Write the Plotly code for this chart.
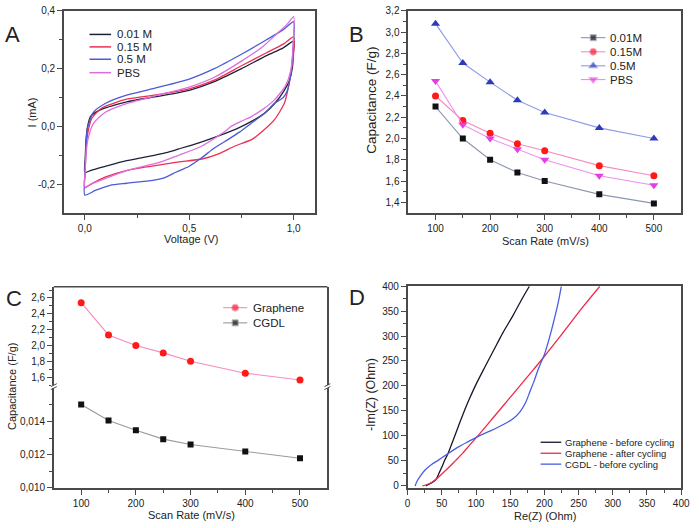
import plotly.graph_objects as go

W, H = 700, 528
FONT = "Liberation Sans, Arial, sans-serif"
LC = "#4a4a4a"


def fx(p):
    return p / W


def fy(p):
    return 1 - p / H


# ---------------- DATA ----------------
# Panel A : cyclic voltammograms (Voltage V, Current mA); forward branch then reverse branch
cv_labels = ["0.01 M", "0.15 M", "0.5 M", "PBS"]
cv_001_x = [0, 0.002, 0.006, 0.012, 0.027, 0.074, 0.2, 0.35, 0.5, 0.62, 0.75, 0.87, 0.95, 1.0,
            0.998, 0.994, 0.98, 0.955, 0.91, 0.86, 0.8, 0.734, 0.65, 0.546, 0.45, 0.389, 0.3, 0.2, 0.1, 0.03, 0.0]
cv_001_y = [-0.16, -0.11, -0.045, -0.005, 0.034, 0.057, 0.085, 0.104, 0.125, 0.155, 0.2, 0.245, 0.272, 0.295,
            0.25, 0.204, 0.16, 0.125, 0.08, 0.045, 0.018, -0.006, -0.03, -0.057, -0.078, -0.091, -0.105, -0.119, -0.138, -0.152, -0.16]
cv_015_x = [0, 0.002, 0.006, 0.015, 0.035, 0.08, 0.2, 0.35, 0.5, 0.62, 0.75, 0.87, 0.95, 1.0,
            0.998, 0.986, 0.97, 0.955, 0.91, 0.86, 0.8, 0.719, 0.64, 0.561, 0.45, 0.39, 0.3, 0.2, 0.1, 0.03, 0.0]
cv_015_y = [-0.213, -0.15, -0.08, -0.02, 0.03, 0.063, 0.094, 0.11, 0.13, 0.16, 0.21, 0.255, 0.285, 0.31,
            0.24, 0.181, 0.12, 0.079, 0.025, -0.011, -0.045, -0.068, -0.095, -0.113, -0.123, -0.13, -0.14, -0.153, -0.175, -0.2, -0.213]
cv_05_x = [0, 0.002, 0.006, 0.012, 0.04, 0.1, 0.2, 0.35, 0.5, 0.62, 0.75, 0.87, 0.95, 1.0,
           0.998, 0.986, 0.97, 0.95, 0.907, 0.86, 0.797, 0.74, 0.687, 0.62, 0.561, 0.5, 0.436, 0.38, 0.326, 0.2, 0.121, 0.05, 0.0]
cv_05_y = [-0.238, -0.15, -0.066, -0.009, 0.048, 0.08, 0.108, 0.135, 0.164, 0.2, 0.25, 0.3, 0.335, 0.363,
           0.28, 0.181, 0.125, 0.1, 0.079, 0.045, 0.011, -0.02, -0.045, -0.075, -0.108, -0.138, -0.159, -0.178, -0.187, -0.197, -0.204, -0.222, -0.238]
cv_pbs_x = [0, 0.002, 0.006, 0.015, 0.042, 0.1, 0.2, 0.35, 0.5, 0.62, 0.75, 0.85, 0.923, 0.97, 1.0,
            0.998, 0.986, 0.96, 0.907, 0.85, 0.797, 0.75, 0.7, 0.672, 0.561, 0.45, 0.357, 0.2, 0.1, 0.03, 0.0]
cv_pbs_y = [-0.21, -0.15, -0.095, -0.045, 0.011, 0.05, 0.079, 0.108, 0.136, 0.17, 0.226, 0.275, 0.323, 0.355, 0.38,
            0.29, 0.193, 0.14, 0.091, 0.058, 0.034, 0.018, 0.0, -0.017, -0.068, -0.1, -0.125, -0.153, -0.18, -0.2, -0.21]

# Panel B : capacitance vs scan rate
scan_rate = [100, 150, 200, 250, 300, 400, 500]
cap_001M = [2.30, 2.00, 1.80, 1.68, 1.60, 1.475, 1.39]
cap_015M = [2.40, 2.17, 2.05, 1.95, 1.885, 1.745, 1.65]
cap_05M = [3.08, 2.71, 2.53, 2.36, 2.245, 2.10, 2.00]
cap_PBS = [2.54, 2.13, 2.00, 1.90, 1.80, 1.65, 1.56]
b_labels = ["0.01M", "0.15M", "0.5M", "PBS"]

# Panel C
cap_graphene = [2.54, 2.133, 2.00, 1.906, 1.80, 1.65, 1.563]
cap_cgdl = [0.01502, 0.01406, 0.01347, 0.01294, 0.01262, 0.01219, 0.01179]
c_labels = ["Graphene", "CGDL"]

# Panel D : Nyquist plots (Re(Z), -Im(Z))
nyq_labels = ["Graphene - before cycling", "Graphene - after cycling", "CGDL - before cycling"]
gr_before_re = [26.5, 32, 37, 42, 46, 50, 54, 59, 66, 74, 83, 91, 100, 113, 126, 139, 152.7, 165, 178]
gr_before_im = [-1, 3, 7, 13, 25, 37, 50, 64, 89, 118, 150, 176, 203, 238, 272, 306, 338, 369, 400]
gr_after_re = [21.6, 26, 32, 37, 42, 50, 60, 70, 80, 90, 101, 125, 150, 175, 201, 225, 256, 281]
gr_after_im = [-1, 1, 4, 8, 13, 23, 36, 50, 64, 80, 97, 136, 177, 218, 261, 303, 358, 400]
cgdl_re = [11, 12, 13.5, 18, 25.5, 35, 45, 59, 75, 90, 101, 120, 140.7, 155, 164.8, 172, 179,
           185, 190, 195, 200, 205, 210, 215, 220, 224.7]
cgdl_im = [-1, 3, 8, 18, 31, 42, 51, 64, 78, 89, 97, 109, 123, 135, 149, 165, 189,
           210, 230, 247, 263, 285, 310, 337, 366, 400]

# Tick labels
a_xt = [0, 0.5, 1.0]; a_xtt = ["0,0", "0,5", "1,0"]
a_yt = [-0.2, 0, 0.2, 0.4]; a_ytt = ["-0,2", "0,0", "0,2", "0,4"]
b_yt = [1.4, 1.6, 1.8, 2.0, 2.2, 2.4, 2.6, 2.8, 3.0, 3.2]
b_ytt = ["1,4", "1,6", "1,8", "2,0", "2,2", "2,4", "2,6", "2,8", "3,0", "3,2"]
sr_t = [100, 200, 300, 400, 500]; sr_tt = ["100", "200", "300", "400", "500"]
c_top_t = [1.6, 1.8, 2.0, 2.2, 2.4, 2.6]; c_top_tt = ["1,6", "1,8", "2,0", "2,2", "2,4", "2,6"]
c_bot_t = [0.010, 0.012, 0.014]; c_bot_tt = ["0,010", "0,012", "0,014"]
d_t = [0, 50, 100, 150, 200, 250, 300, 350, 400]
d_tt = ["0", "50", "100", "150", "200", "250", "300", "350", "400"]

# ---------------- STYLE ----------------
A_COL = ["#1e2238", "#ec2f52", "#4b5bd6", "#dd6ee0"]
B_LINE = ["#8d95b5", "#f48cc0", "#8e9be6", "#f08ef0"]
B_MK = ["#111111", "#ff1a1a", "#2c3cb8", "#e43ee4"]
B_SYM = ["square", "circle", "triangle-up", "triangle-down"]
B_SIZE = [6, 7, 8, 8]
D_COL = ["#17172c", "#f0284a", "#4a5ee0"]

fig = go.Figure()

# Panel A
for xs, ys, lab, col in zip([cv_001_x, cv_015_x, cv_05_x, cv_pbs_x],
                            [cv_001_y, cv_015_y, cv_05_y, cv_pbs_y], cv_labels, A_COL):
    fig.add_trace(go.Scatter(x=xs, y=ys, mode="lines", name=lab, showlegend=False,
                             line=dict(color=col, width=1.3, shape="spline", smoothing=0.6),
                             xaxis="x", yaxis="y"))

# Panel B
for ys, lab, lc, mc, sym, sz in zip([cap_001M, cap_015M, cap_05M, cap_PBS], b_labels,
                                   B_LINE, B_MK, B_SYM, B_SIZE):
    fig.add_trace(go.Scatter(x=scan_rate, y=ys, mode="lines+markers", name=lab, showlegend=False,
                             line=dict(color=lc, width=1.1),
                             marker=dict(color=mc, symbol=sym, size=sz),
                             xaxis="x2", yaxis="y2"))

# Panel C
fig.add_trace(go.Scatter(x=scan_rate, y=cap_graphene, mode="lines+markers", name=c_labels[0],
                         showlegend=False, line=dict(color="#f48cc0", width=1.1),
                         marker=dict(color="#ff1a1a", symbol="circle", size=7),
                         xaxis="x3", yaxis="y4"))
fig.add_trace(go.Scatter(x=scan_rate, y=cap_cgdl, mode="lines+markers", name=c_labels[1],
                         showlegend=False, line=dict(color="#9a9a9a", width=1.1),
                         marker=dict(color="#111111", symbol="square", size=6),
                         xaxis="x3", yaxis="y3"))

# Panel D
for xs, ys, lab, col in zip([gr_before_re, gr_after_re, cgdl_re], [gr_before_im, gr_after_im, cgdl_im],
                            nyq_labels, D_COL):
    fig.add_trace(go.Scatter(x=xs, y=ys, mode="lines", name=lab, showlegend=False,
                             line=dict(color=col, width=1.3, shape="spline", smoothing=0.8),
                             xaxis="x4", yaxis="y5"))


def axis(domain, rng, tv, tt, minor_vals, anchor, mirror=True, showline=True):
    return dict(domain=domain, range=rng, tickmode="array", tickvals=tv, ticktext=tt,
                ticks="outside", ticklen=5, tickwidth=1.2, tickcolor=LC,
                showline=showline, linecolor=LC, linewidth=1.5, mirror=mirror,
                showgrid=False, zeroline=False,
                tickfont=dict(size=10, color="#222", family=FONT),
                minor=dict(tickvals=minor_vals, ticks="outside", ticklen=3, tickwidth=1,
                           tickcolor=LC, showgrid=False),
                anchor=anchor)


sr_minor = [150, 250, 350, 450]
d_minor = [25, 75, 125, 175, 225, 275, 325, 375]
layout = dict(
    width=W, height=H, margin=dict(l=0, r=0, t=0, b=0),
    paper_bgcolor="white", plot_bgcolor="rgba(0,0,0,0)",
    font=dict(family=FONT, color="#222"), showlegend=False,
    xaxis=axis([fx(62), fx(317)], [-0.1, 1.1], a_xt, a_xtt, [0.25, 0.75], "y"),
    yaxis=axis([fy(212), fy(6)], [-0.3, 0.4], a_yt, a_ytt, [-0.1, 0.1, 0.3], "x"),
    xaxis2=axis([fx(412.3), fx(690)], [50, 550], sr_t, sr_tt, sr_minor, "y2"),
    yaxis2=axis([fy(212), fy(6)], [1.3, 3.2], b_yt, b_ytt,
                [1.5, 1.7, 1.9, 2.1, 2.3, 2.5, 2.7, 2.9, 3.1], "x2"),
    xaxis3=axis([fx(51.7), fx(330)], [50, 550], sr_t, sr_tt, sr_minor, "y3", mirror=False),
    yaxis3=axis([fy(492.3), fy(389)], [0.010, 0.0161], c_bot_t, c_bot_tt,
                [0.011, 0.013, 0.015], "x3"),
    yaxis4=axis([fy(389), fy(287.3)], [1.48, 2.74], c_top_t, c_top_tt,
                [1.5, 1.7, 1.9, 2.1, 2.3, 2.5, 2.7], "x3"),
    xaxis4=axis([fx(411.7), fx(690)], [0, 400], d_t, d_tt, d_minor, "y5"),
    yaxis5=axis([fy(492.3), fy(286.7)], [-5, 400], d_t, d_tt, d_minor, "x4"),
    # pixel-space overlay used for the hand-made legend swatches
    xaxis5=dict(domain=[0, 1], range=[0, W], visible=False, anchor="y6", fixedrange=True),
    yaxis6=dict(domain=[0, 1], range=[H, 0], visible=False, anchor="x5", fixedrange=True),
)
fig.update_layout(**layout)

annotations = []
shapes = []


def text(x, y, s, size=12, xanchor="left", yanchor="middle", angle=0):
    annotations.append(dict(x=fx(x), y=fy(y), xref="paper", yref="paper", text=s, showarrow=False,
                            xanchor=xanchor, yanchor=yanchor, textangle=angle,
                            font=dict(size=size, family=FONT, color="#222")))


# Panel letters
text(0, 30, "A", size=22)
text(350, 30, "B", size=22)
text(1, 299, "C", size=22)
text(350, 298, "D", size=22)

# Axis titles
text(191.7, 239, "Voltage (V)", size=11, xanchor="center")
text(29, 110, "I (mA)", size=11, xanchor="center", angle=-90)
text(551.7, 240.5, "Scan Rate (mV/s)", size=11, xanchor="center")
text(375, 97, "Capacitance (F/g)", size=13.5, xanchor="center", angle=-90)
text(191.7, 520, "Scan Rate (mV/s)", size=11, xanchor="center")
text(8.5, 389, "Capacitance (F/g)", size=11, xanchor="center", angle=-90)
text(551.7, 520.5, "Re(Z) (Ohm)", size=11, xanchor="center")
text(375, 397, "-Im(Z) (Ohm)", size=12.5, xanchor="center", angle=-90)


def legend_sample(x0, x1, y, color, width=1.3, mcolor=None, sym=None, msize=7):
    mode = "lines" if sym is None else "lines+markers"
    fig.add_trace(go.Scatter(x=[x0, (x0 + x1) / 2, x1], y=[y, y, y], mode=mode, showlegend=False,
                             hoverinfo="skip", line=dict(color=color, width=width),
                             marker=dict(color=mcolor, symbol=sym, size=[0, msize, 0] if sym else None),
                             xaxis="x5", yaxis="y6"))


# Legend A
a_rows = [30, 42.7, 55.3, 69]
for lab, col, yy in zip(cv_labels, A_COL, a_rows):
    legend_sample(88, 110, yy, col, width=1.5)
    text(114, yy, lab, size=11.5)

# Legend B
b_rows = [33.3, 47.7, 62, 76]
for lab, lc, mc, sym, sz, yy in zip(b_labels, B_LINE, B_MK, B_SYM, B_SIZE, b_rows):
    legend_sample(588, 613, yy, lc, width=1.1, mcolor=mc, sym=sym, msize=sz)
    text(616, yy, lab, size=11.5)

# Legend C
legend_sample(224, 248.5, 308.5, "#f48cc0", width=1.1, mcolor="#ff1a1a", sym="circle", msize=7)
text(252, 308.5, c_labels[0], size=11.5)
legend_sample(224, 248.5, 324, "#9a9a9a", width=1.1, mcolor="#111111", sym="square", msize=6)
text(252, 324, c_labels[1], size=11.5)

# Legend D
d_rows = [445.7, 456.9, 468]
for lab, col, yy in zip(nyq_labels, D_COL, d_rows):
    legend_sample(547, 568, yy, col, width=1.3)
    text(570, yy, lab, size=9.5)

# Panel C: top frame line and axis-break marks
shapes.append(dict(type="line", xref="paper", yref="paper", x0=fx(51.7), x1=fx(330),
                   y0=fy(287.3), y1=fy(287.3), line=dict(color=LC, width=1.5)))
for bx in (51.7, 330):
    shapes.append(dict(type="rect", xref="paper", yref="paper", x0=fx(bx - 3), x1=fx(bx + 3),
                       y0=fy(390.5), y1=fy(387.5), fillcolor="white", line=dict(width=0)))
    for dy in (-1.5, 1.5):
        shapes.append(dict(type="line", xref="paper", yref="paper", x0=fx(bx - 3), x1=fx(bx + 3),
                           y0=fy(389 + dy + 1.5), y1=fy(389 + dy - 1.5),
                           line=dict(color=LC, width=1)))

fig.update_layout(annotations=annotations, shapes=shapes)
fig.write_html("out.html", config={"displayModeBar": False},
               post_script="document.body.style.margin='0';document.body.style.overflow='hidden';")
